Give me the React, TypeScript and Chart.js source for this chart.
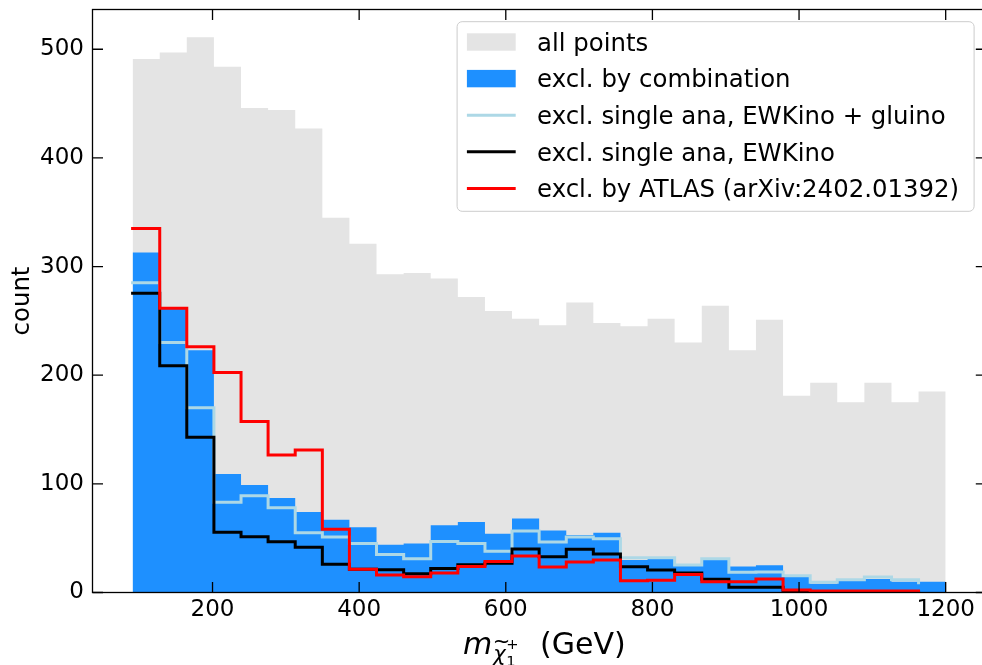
import React, { useEffect, useRef } from 'react';
import { Chart, registerables } from 'chart.js';

Chart.register(...registerables);

// ---- data ----
const binEdges = [
  91.0, 128.0, 164.9, 201.9, 238.9, 275.8, 312.8, 349.8, 386.7, 423.7, 460.7,
  497.6, 534.6, 571.6, 608.5, 645.5, 682.5, 719.4, 756.4, 793.4, 830.3, 867.3,
  904.3, 941.2, 978.2, 1015.2, 1052.1, 1089.1, 1126.1, 1163.0, 1200.0,
];

const allPoints = [
  491, 497, 511, 484, 446, 444, 427, 345, 321, 293, 294, 289, 272, 259, 252,
  246, 267, 248, 245, 252, 230, 264, 223, 251, 181, 193, 175, 193, 175, 185,
];
const exclCombination = [
  313, 261, 223, 109, 99, 87, 74, 67, 60, 44, 45, 62, 65, 54, 68, 57, 53, 55,
  30, 31, 24.5, 30, 24, 25, 15, 8, 10.5, 12.5, 10, 10,
];
const exclEWKinoGluino = [
  285, 230, 170, 83, 89, 78, 55, 51, 45, 35, 31, 47, 45, 38, 56.5, 46.5, 51,
  49.5, 32, 32, 25.3, 31, 18.7, 18.8, 15.5, 9.5, 11.8, 14.3, 11.8, 9,
];
const exclEWKino = [
  275.5, 208.6, 143, 55.4, 51.4, 46.8, 41.6, 26, 21.4, 21, 17.3, 22, 25.5, 27,
  40, 33, 39.8, 35.5, 23.8, 20.7, 18, 12.2, 4.8, 4.8, 0, 0, 0, 0, 0, 0,
];
const exclATLAS = [
  335, 261.7, 226.3, 202.4, 157.3, 126.6, 131.2, 58.2, 21.4, 16, 14.6, 18, 24,
  28.5, 33.5, 23.5, 28, 29.9, 10.9, 11.2, 16.5, 10, 10, 12.4, 2.3, 1.4, 1.4,
  1.4, 1.4, 0,
];

const xTicks = [200, 400, 600, 800, 1000, 1200];
const yTicks = [0, 100, 200, 300, 400, 500];

const seriesLabels = [
  'all points',
  'excl. by combination',
  'excl. single ana, EWKino + gluino',
  'excl. single ana, EWKino',
  'excl. by ATLAS (arXiv:2402.01392)',
];

const GREY = '#e4e4e4';
const BLUE = '#1e90ff';
const LIGHTBLUE = '#add8e6';
const BLACK = '#000000';
const RED = '#ff0000';

const FONT = "'DejaVu Sans', 'Liberation Sans', sans-serif";

// filled histogram: value i spans [edge i, edge i+1]
function histPoints(values: number[]) {
  const pts = values.map((v, i) => ({ x: binEdges[i], y: v }));
  pts.push({ x: binEdges[values.length], y: values[values.length - 1] });
  return pts;
}
// step line as matplotlib step(edges[:-1], counts, where='post')
function stepPoints(values: number[]) {
  return values.map((v, i) => ({ x: binEdges[i], y: v }));
}

const framePlugin = {
  id: 'framePlugin',
  afterDatasetsDraw(chart: any) {
    const { ctx, chartArea: a, scales } = chart;
    ctx.save();
    ctx.strokeStyle = '#000';
    ctx.lineWidth = 1.3;
    ctx.strokeRect(a.left, a.top, a.right - a.left, a.bottom - a.top);
    const tl = 10.5;
    ctx.beginPath();
    for (const v of xTicks) {
      const px = scales.x.getPixelForValue(v);
      ctx.moveTo(px, a.bottom);
      ctx.lineTo(px, a.bottom - tl);
      ctx.moveTo(px, a.top);
      ctx.lineTo(px, a.top + tl);
    }
    for (const v of yTicks) {
      const py = scales.y.getPixelForValue(v);
      ctx.moveTo(a.left, py);
      ctx.lineTo(a.left + tl, py);
      ctx.moveTo(a.right, py);
      ctx.lineTo(a.right - tl, py);
    }
    ctx.stroke();
    ctx.restore();
  },
  afterDraw(chart: any) {
    const { ctx, chartArea: a } = chart;
    const fs = 24.4;
    ctx.save();
    // ---- legend ----
    const boxW = 517;
    const boxH = 189.6;
    const boxR = a.right - 12.2;
    const boxL = boxR - boxW;
    const boxT = a.top + 12.2;
    ctx.beginPath();
    ctx.roundRect(boxL, boxT, boxW, boxH, 5);
    ctx.fillStyle = 'rgba(255,255,255,0.8)';
    ctx.fill();
    ctx.strokeStyle = '#cccccc';
    ctx.lineWidth = 1;
    ctx.stroke();
    const items = [
      { kind: 'patch', color: GREY },
      { kind: 'patch', color: BLUE },
      { kind: 'line', color: LIGHTBLUE },
      { kind: 'line', color: BLACK },
      { kind: 'line', color: RED },
    ];
    ctx.font = `${fs}px ${FONT}`;
    ctx.textAlign = 'left';
    ctx.textBaseline = 'alphabetic';
    items.forEach((it, i) => {
      const cy = boxT + 20.3 + i * 36.6;
      const hx0 = boxL + 9.8;
      const hx1 = boxL + 58.6;
      if (it.kind === 'patch') {
        ctx.fillStyle = it.color;
        ctx.fillRect(hx0, cy - 8.7, hx1 - hx0, 17.4);
      } else {
        ctx.strokeStyle = it.color;
        ctx.lineWidth = 3;
        ctx.lineCap = 'butt';
        ctx.beginPath();
        ctx.moveTo(hx0, cy);
        ctx.lineTo(hx1, cy);
        ctx.stroke();
      }
      ctx.fillStyle = '#000';
      ctx.fillText(chart.data.datasets[i].label, boxL + 80, cy + 8.8);
    });

    // ---- y axis label ----
    ctx.save();
    ctx.translate(28.5, (a.top + a.bottom) / 2);
    ctx.rotate(-Math.PI / 2);
    ctx.font = `${fs}px ${FONT}`;
    ctx.textAlign = 'center';
    ctx.textBaseline = 'alphabetic';
    ctx.fillStyle = '#000';
    ctx.fillText('count', 0, 0);
    ctx.restore();

    // ---- x axis label: m_{chi~_1^+} (GeV) ----
    const xfs = 30;
    const base = 654;
    ctx.fillStyle = '#000';
    ctx.textBaseline = 'alphabetic';
    ctx.textAlign = 'left';
    let x = 463;
    ctx.font = `italic ${xfs}px ${FONT}`;
    ctx.fillText('m', x, base);
    x += ctx.measureText('m').width + 1;
    const sfs = xfs * 0.7;
    ctx.font = `italic ${sfs}px ${FONT}`;
    const chiBase = base + 7;
    ctx.fillText('\u03c7', x, chiBase);
    const chiW = ctx.measureText('\u03c7').width;
    ctx.font = `${sfs}px ${FONT}`;
    const tW = ctx.measureText('~').width;
    ctx.fillText('~', x + (chiW - tW) / 2 + 2, chiBase - 13);
    x += chiW + 0.5;
    const ssfs = xfs * 0.49;
    ctx.font = `${ssfs}px ${FONT}`;
    ctx.fillText('1', x, chiBase + 5);
    ctx.fillText('+', x, chiBase - 12);
    ctx.font = `${xfs}px ${FONT}`;
    ctx.fillText('(GeV)', 540, base);
    ctx.restore();
  },
};

export default function App() {
  const ref = useRef<HTMLCanvasElement>(null);

  useEffect(() => {
    const canvas = ref.current;
    if (!canvas) return;
    const lineBase = {
      fill: false,
      stepped: 'before' as const,
      pointRadius: 0,
      pointHoverRadius: 0,
      borderWidth: 3,
      borderCapStyle: 'square' as const,
      borderJoinStyle: 'miter' as const,
      clip: 0,
      spanGaps: false,
    };
    const chart = new Chart(canvas, {
      type: 'line',
      data: {
        datasets: [
          {
            label: seriesLabels[0],
            data: histPoints(allPoints),
            stepped: 'before',
            fill: 'origin',
            backgroundColor: GREY,
            borderColor: GREY,
            borderWidth: 0,
            pointRadius: 0,
            clip: 0,
            order: 5,
          },
          {
            label: seriesLabels[1],
            data: histPoints(exclCombination),
            stepped: 'before',
            fill: 'origin',
            backgroundColor: BLUE,
            borderColor: BLUE,
            borderWidth: 0,
            pointRadius: 0,
            clip: 0,
            order: 4,
          },
          {
            ...lineBase,
            label: seriesLabels[2],
            data: stepPoints(exclEWKinoGluino),
            borderColor: LIGHTBLUE,
            order: 3,
          },
          {
            ...lineBase,
            label: seriesLabels[3],
            data: stepPoints(exclEWKino),
            borderColor: BLACK,
            order: 2,
          },
          {
            ...lineBase,
            label: seriesLabels[4],
            data: stepPoints(exclATLAS),
            borderColor: RED,
            order: 1,
          },
        ] as any,
      },
      options: {
        animation: false,
        responsive: false,
        events: [],
        layout: { padding: { left: 0, top: 9.5, right: 1000 - 986.3, bottom: 0 } },
        plugins: {
          legend: { display: false },
          tooltip: { enabled: false },
        },
        scales: {
          x: {
            type: 'linear',
            min: 36.3,
            max: 1255.4,
            grid: { display: false, drawTicks: false },
            border: { display: false },
            ticks: {
              color: '#000',
              font: { family: FONT, size: 23 },
              padding: 4,
              maxRotation: 0,
              autoSkip: false,
              callback: (v: any) => String(v),
            },
            afterBuildTicks: (scale: any) => {
              scale.ticks = xTicks.map((v) => ({ value: v }));
            },
            afterFit: (scale: any) => {
              scale.height = 665 - 592.5;
              scale.paddingLeft = 0;
              scale.paddingRight = 0;
            },
          },
          y: {
            type: 'linear',
            min: 0,
            max: 536.6,
            grid: { display: false, drawTicks: false },
            border: { display: false },
            ticks: {
              color: '#000',
              font: { family: FONT, size: 23 },
              padding: 8.5,
              autoSkip: false,
              callback: (v: any) => String(v),
            },
            afterBuildTicks: (scale: any) => {
              scale.ticks = yTicks.map((v) => ({ value: v }));
            },
            afterFit: (scale: any) => {
              scale.width = 92.5;
              scale.paddingTop = 0;
              scale.paddingBottom = 0;
            },
          },
        },
      } as any,
      plugins: [framePlugin],
    });
    return () => chart.destroy();
  }, []);

  return (
    <div
      style={{
        position: 'fixed',
        left: 0,
        top: 0,
        width: 982,
        height: 665,
        overflow: 'hidden',
        background: '#ffffff',
      }}
    >
      <canvas
        ref={ref}
        width={1000}
        height={665}
        style={{ display: 'block', width: 1000, height: 665 }}
      />
    </div>
  );
}
